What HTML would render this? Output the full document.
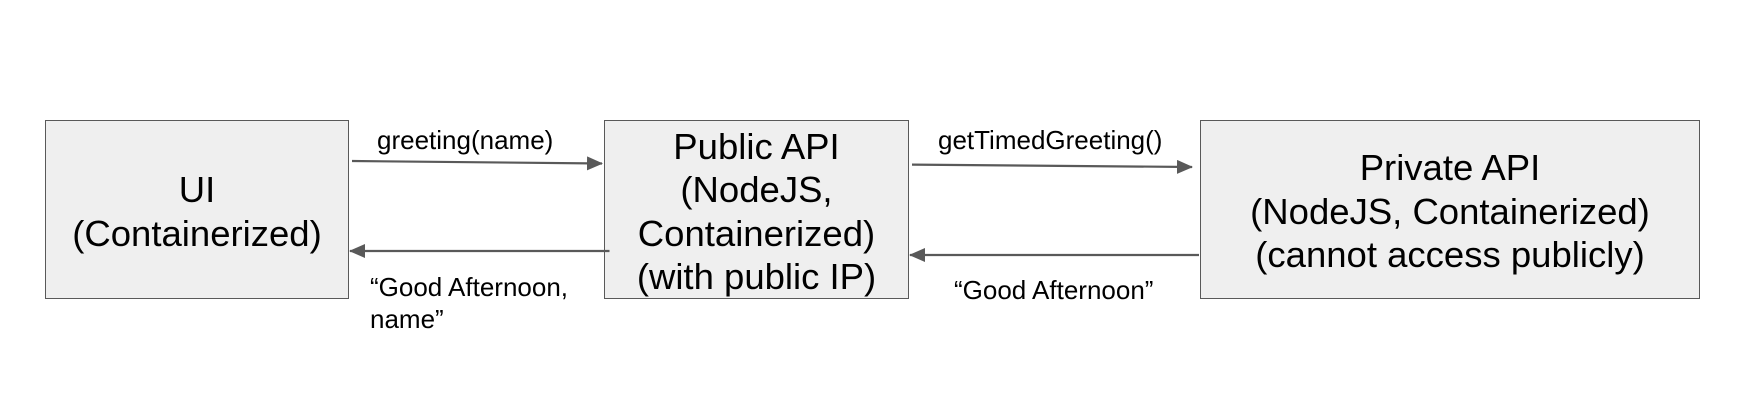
<!DOCTYPE html>
<html><head><style>
body{margin:0;width:1744px;height:420px;background:#fff;overflow:hidden;font-family:"Liberation Sans",Arial,sans-serif}
.b{position:absolute;background:#efefef;border:1.5px solid #595959;box-sizing:border-box;display:flex;align-items:center;justify-content:center;text-align:center;font-size:36.5px;line-height:43.4px;color:#000;padding-top:4px}
.t{position:absolute;font-size:26px;color:#000;line-height:32px;white-space:nowrap}
</style></head><body>
<div class="b" style="left:45px;top:120px;width:304px;height:179px;">UI<br>(Containerized)</div>
<div class="b" style="left:604px;top:120px;width:305px;height:179px;white-space:nowrap">Public API<br>(NodeJS,<br>Containerized)<br>(with public IP)</div>
<div class="b" style="left:1200px;top:120px;width:500px;height:179px;white-space:nowrap">Private API<br>(NodeJS, Containerized)<br>(cannot access publicly)</div>
<svg width="1744" height="420" style="position:absolute;left:0;top:0">
<defs>
<marker id="m" markerWidth="16" markerHeight="14" refX="15" refY="7" orient="auto" markerUnits="userSpaceOnUse"><path d="M0,0 L16,7 L0,14z" fill="#595959"/></marker></defs>
<g stroke="#595959" stroke-width="2.2" fill="none">
<line x1="352" y1="161" x2="602" y2="163.5" marker-end="url(#m)"/>
<line x1="609.5" y1="251" x2="350" y2="251" marker-end="url(#m)"/>
<line x1="912" y1="164.6" x2="1192" y2="167" marker-end="url(#m)"/>
<line x1="1199" y1="255" x2="910" y2="255" marker-end="url(#m)"/>
</g></svg>
<div class="t" style="left:377px;top:124px">greeting(name)</div>
<div class="t" style="left:938px;top:124px">getTimedGreeting()</div>
<div class="t" style="left:370px;top:271px">“Good Afternoon,</div>
<div class="t" style="left:370px;top:303px">name”</div>
<div class="t" style="left:954px;top:274px">“Good Afternoon”</div>
</body></html>
